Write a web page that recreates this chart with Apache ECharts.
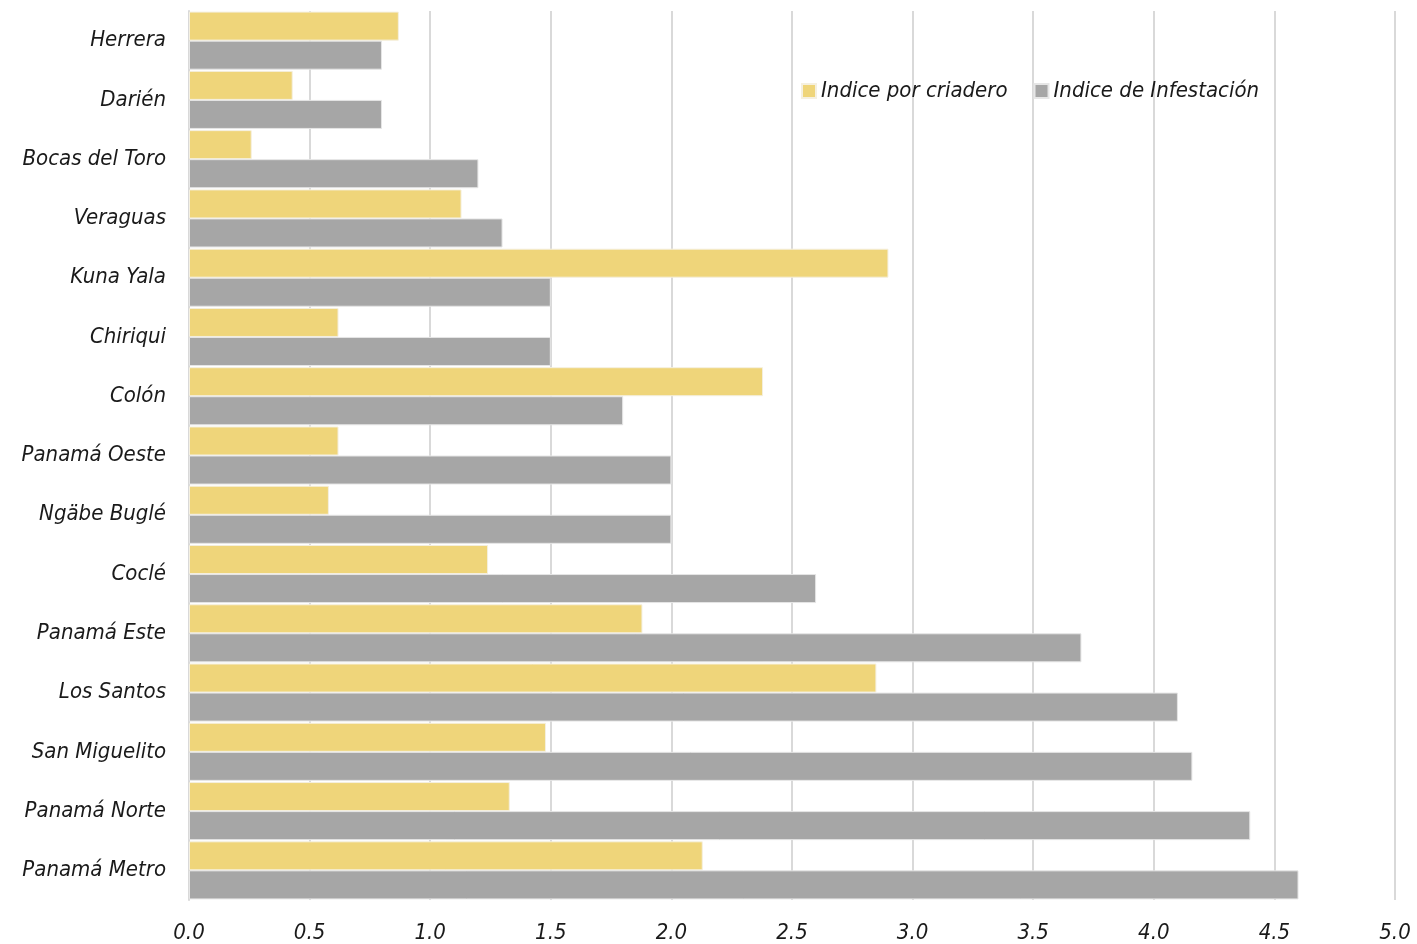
<!DOCTYPE html>
<html><head><meta charset="utf-8">
<script src="https://cdn.jsdelivr.net/npm/echarts@6/dist/echarts.min.js"></script>
<style>html,body{margin:0;padding:0;background:#fff}#c{width:1417px;height:944px}</style>
</head><body><div id="c"></div>
<script>
const categories = ['Herrera','Darién','Bocas del Toro','Veraguas','Kuna Yala','Chiriqui','Colón','Panamá Oeste','Ngäbe Buglé','Coclé','Panamá Este','Los Santos','San Miguelito','Panamá Norte','Panamá Metro'];
const indicePorCriadero = [0.87,0.43,0.26,1.13,2.90,0.62,2.38,0.62,0.58,1.24,1.88,2.85,1.48,1.33,2.13];
const indiceInfestacion = [0.80,0.80,1.20,1.30,1.50,1.50,1.80,2.00,2.00,2.60,3.70,4.10,4.16,4.40,4.60];
const xTicks = {min:0,max:5,interval:0.5};

const FONT = "'Liberation Sans Narrow','DejaVu Sans Condensed',sans-serif";
const chart = echarts.init(document.getElementById('c'));
chart.setOption({
  animation:false,
  textStyle:{fontFamily:FONT},
  grid:{left:189,right:22,top:11,bottom:42,containLabel:false},
  legend:{
    left:796, top:75, itemWidth:14, itemHeight:14, itemGap:26,
    icon:'rect',
    textStyle:{fontFamily:FONT,fontStyle:'italic',fontSize:22,color:'#1a1a1a'},
    data:['Indice por criadero','Indice de Infestación']
  },
  xAxis:{
    type:'value', min:xTicks.min, max:xTicks.max, interval:xTicks.interval,
    axisLine:{show:false}, axisTick:{show:false},
    splitLine:{show:true,lineStyle:{color:'#d9d9d9',width:2}},
    axisLabel:{formatter:v=>v.toFixed(1),fontFamily:FONT,fontStyle:'italic',fontSize:22,color:'#1a1a1a',margin:22}
  },
  yAxis:{
    type:'category', data:categories, inverse:true,
    axisLine:{show:true,lineStyle:{color:'#d9d9d9',width:2}}, axisTick:{show:false},
    axisLabel:{fontFamily:FONT,fontStyle:'italic',fontSize:22,color:'#1a1a1a',margin:23,lineHeight:30,padding:[8,0,0,0]}
  },
  series:[
    {name:'Indice por criadero',type:'bar',data:indicePorCriadero,barGap:'0%',barCategoryGap:'2%',
     itemStyle:{color:'#efd57a',borderColor:'#f5f0e0',borderWidth:1}},
    {name:'Indice de Infestación',type:'bar',data:indiceInfestacion,barGap:'0%',barCategoryGap:'2%',
     itemStyle:{color:'#a6a6a6',borderColor:'#e6e6e6',borderWidth:1}}
  ]
});
</script></body></html>
